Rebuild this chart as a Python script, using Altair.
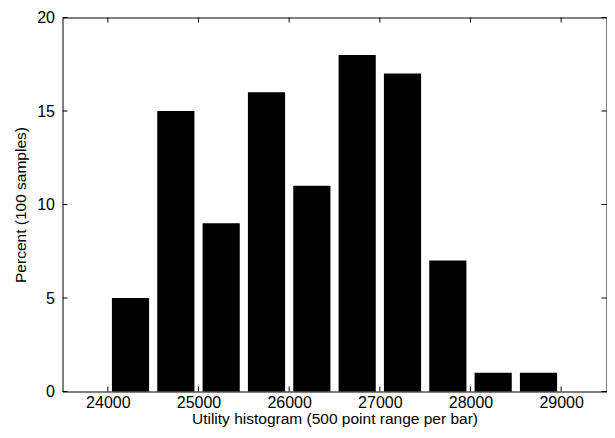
import altair as alt
import pandas as pd

bin_centers = [24250, 24750, 25250, 25750, 26250, 26750, 27250, 27750, 28250, 28750]
percents = [5, 15, 9, 16, 11, 18, 17, 7, 1, 1]
x_ticks = [24000, 25000, 26000, 27000, 28000, 29000]
y_ticks = [0, 5, 10, 15, 20]

W, H = 544, 374
FONT = "Liberation Sans"
HALF = 205

bars_df = pd.DataFrame({"center": bin_centers, "pct": percents})
xt_df = pd.DataFrame({"v": x_ticks})
yt_df = pd.DataFrame({"v": y_ticks})

style = dict(labelFont=FONT, titleFont=FONT, labelFontSize=16, titleFontSize=15.5,
             labelColor="black", titleColor="black", titleFontWeight="normal",
             ticks=False, grid=False, domain=False)

xscale = alt.Scale(domain=[23500, 29500], nice=False, zero=False)
yscale = alt.Scale(domain=[0, 20], nice=False)
xaxis = alt.Axis(title="Utility histogram (500 point range per bar)",
                 values=x_ticks, format="d", labelPadding=3, titlePadding=1, **style)
yaxis = alt.Axis(title="Percent (100 samples)", values=y_ticks,
                 labelPadding=8, titlePadding=8, **style)

bars = alt.Chart(bars_df).transform_calculate(
    x0=f"datum.center - {HALF}", x1=f"datum.center + {HALF}"
).mark_rect(color="black").encode(
    x=alt.X("x0:Q", scale=xscale, axis=xaxis),
    x2="x1:Q",
    y=alt.Y("pct:Q", scale=yscale, axis=yaxis),
    y2=alt.datum(0),
)

tb = alt.Chart(xt_df).mark_rule(color="black", strokeWidth=1).encode(
    x=alt.X("v:Q", scale=xscale, axis=xaxis),
    y=alt.value(H), y2=alt.value(H - 5))
tt = alt.Chart(xt_df).mark_rule(color="black", strokeWidth=1).encode(
    x=alt.X("v:Q", scale=xscale, axis=xaxis),
    y=alt.value(0), y2=alt.value(5))
tl = alt.Chart(yt_df).mark_rule(color="black", strokeWidth=1).encode(
    y=alt.Y("v:Q", scale=yscale, axis=yaxis),
    x=alt.value(0), x2=alt.value(5))
tr = alt.Chart(yt_df).mark_rule(color="black", strokeWidth=1).encode(
    y=alt.Y("v:Q", scale=yscale, axis=yaxis),
    x=alt.value(W), x2=alt.value(W - 5))

chart = alt.layer(bars, tb, tt, tl, tr).properties(
    width=W, height=H,
    autosize=alt.AutoSizeParams(type="none"),
    padding={"left": 54.5, "top": 9.5, "right": 0.5, "bottom": 38.5},
    background="white",
).configure_view(stroke="black", strokeWidth=1)

chart.save("out.html", embed_options={"renderer": "svg", "actions": False})
